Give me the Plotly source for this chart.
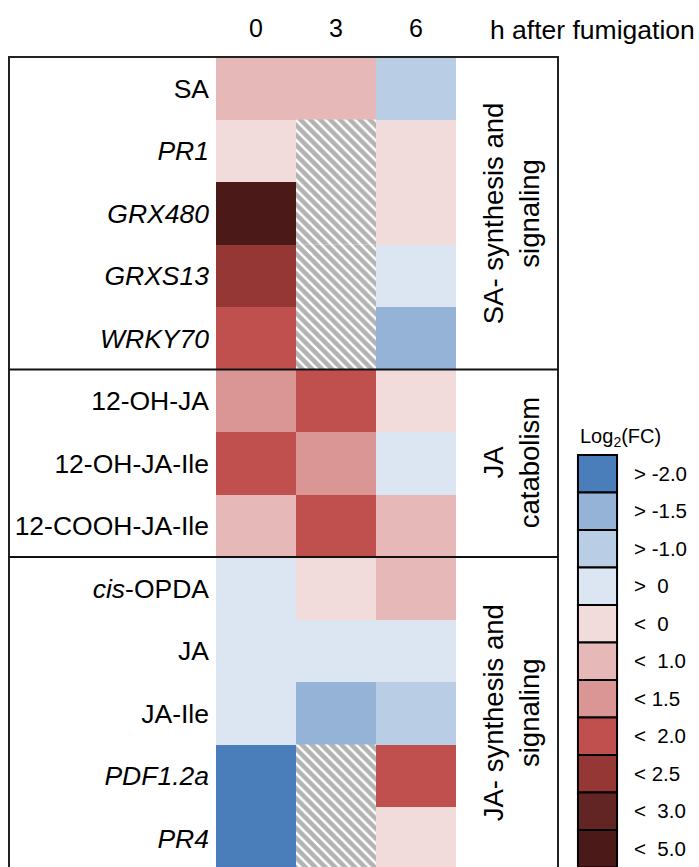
import numpy as np
import plotly.graph_objects as go

# ---------------- data ----------------
rows = ["SA", "<i>PR1</i>", "<i>GRX480</i>", "<i>GRXS13</i>", "<i>WRKY70</i>",
        "12-OH-JA", "12-OH-JA-Ile", "12-COOH-JA-Ile",
        "<i>cis</i>-OPDA", "JA", "JA-Ile", "<i>PDF1.2a</i>", "<i>PR4</i>"]
time_labels = ["0", "3", "6"]

# estimated log2(FC) values (None = not determined, hatched)
h0 = [0.8, 0.2, 4.0, 2.2, 1.7, 1.2, 1.7, 0.8, -0.3, -0.3, -0.3, -1.8, -1.8]
h3 = [0.8, None, None, None, None, 1.7, 1.2, 1.7, 0.2, -0.3, -1.2, None, None]
h6 = [-0.7, 0.2, 0.2, -0.3, -1.2, 0.2, -0.3, 0.8, 0.8, -0.3, -0.7, 1.7, 0.2]

bin_edges = [-2.0, -1.5, -1.0, -0.5, 0.0, 0.5, 1.0, 1.5, 2.0, 2.5, 3.0, 5.0]
bin_labels = ["> -2.0", "> -1.5", "> -1.0", ">\u00a0\u00a00", "<\u00a0\u00a00",
              "<\u00a0\u00a01.0", "<\u00a01.5", "<\u00a0\u00a02.0", "<\u00a02.5",
              "<\u00a0\u00a03.0", "<\u00a0\u00a05.0"]
bin_colors = ["#4A7EBB", "#95B3D7", "#B9CDE5", "#DCE6F2", "#F2DCDB", "#E6B9B8",
              "#D99694", "#C0504D", "#953735", "#632523", "#4B1917"]

groups = ["SA- synthesis and<br>signaling", "JA<br>catabolism",
          "JA- synthesis and<br>signaling"]
group_rows = [[0, 4], [5, 7], [8, 12]]

# ---------------- figure ----------------
W, H = 699, 867
FONT = "Arial, Liberation Sans, sans-serif"

cols = [h0, h3, h6]
nrow = len(rows)
z = []
for r in range(nrow):
    line = []
    for c in range(3):
        v = cols[c][r]
        line.append(None if v is None else int(np.digitize(v, bin_edges) - 1))
    z.append(line)

n = len(bin_colors)
cs = []
for i, col in enumerate(bin_colors):
    cs.append([i / n, col])
    cs.append([(i + 1) / n, col])

fig = go.Figure()
fig.add_trace(go.Heatmap(
    z=z, x=list(range(3)), y=list(range(nrow)),
    colorscale=cs, zmin=-0.5, zmax=n - 0.5, showscale=False,
    hoverinfo="skip"))

# hatched (missing) cells
hx, hy, hb = [], [], []
for c in range(3):
    for r in range(nrow):
        if cols[c][r] is None:
            hx.append(c)
            hy.append(1)
            hb.append(r - 0.5)
fig.add_trace(go.Bar(
    x=hx, y=hy, base=hb, width=1,
    marker=dict(color="white", line=dict(width=0),
                pattern=dict(shape="\\", fgcolor="#686868", bgcolor="white",
                             size=7, solidity=0.65)),
    showlegend=False, hoverinfo="skip"))

# legend as bar stack on second axes
fig.add_trace(go.Bar(
    x=[1] * n, y=list(range(n)), base=0, width=1, orientation="h",
    marker=dict(color=bin_colors, line=dict(color="black", width=2)),
    xaxis="x2", yaxis="y2", showlegend=False, hoverinfo="skip"))

top_px = 55
row_px = 62.5
y_top = -0.5 - (57 - top_px) / row_px
y_bot = -0.5 + (H - 57) / row_px

leg_top_px, leg_box_top = 453, 455
leg_h = 37.5
ly_top = -0.5 - (leg_box_top - leg_top_px) / leg_h
ly_bot = -0.5 + (H - leg_box_top) / leg_h

fig.update_layout(
    width=W, height=H, margin=dict(l=0, r=0, t=0, b=0, autoexpand=False),
    paper_bgcolor="white", plot_bgcolor="white",
    font=dict(family=FONT, color="black", size=26),
    barmode="overlay", showlegend=False,
    xaxis=dict(domain=[216 / W, 456 / W], range=[-0.5, 2.5], side="top",
               tickvals=[0, 1, 2], ticktext=time_labels, ticks="",
               showgrid=False, zeroline=False, showline=False, automargin=False,
               tickfont=dict(size=25), ticklabelstandoff=12),
    yaxis=dict(domain=[0, 1 - top_px / H], range=[y_bot, y_top],
               tickvals=list(range(nrow)), ticktext=rows, ticks="",
               showgrid=False, zeroline=False, showline=False, automargin=False,
               tickfont=dict(size=26.5), ticklabelstandoff=6),
    xaxis2=dict(domain=[576 / W, 619 / W], range=[-0.05, 1.05], anchor="y2",
                visible=False, automargin=False),
    yaxis2=dict(domain=[0, 1 - leg_top_px / H], range=[ly_bot, ly_top],
                anchor="x2", side="right", tickvals=list(range(n)),
                ticktext=bin_labels, ticks="", showgrid=False, zeroline=False,
                showline=False, automargin=False,
                tickfont=dict(size=20.5), ticklabelstandoff=14),
)

# box and separators
fig.add_shape(type="rect", xref="paper", yref="y", x0=9 / W, x1=558 / W,
              y0=-0.5, y1=y_bot + 1, line=dict(color="#222", width=2),
              layer="above")
for g in group_rows[:-1]:
    fig.add_shape(type="line", xref="paper", yref="y", x0=9 / W, x1=558 / W,
                  y0=g[1] + 0.5, y1=g[1] + 0.5, line=dict(color="#111", width=2),
                  layer="above")

for text, (a, b) in zip(groups, group_rows):
    fig.add_annotation(text=text, textangle=-90, xref="paper", yref="y",
                       x=511 / W, y=(a + b) / 2, xanchor="center",
                       yanchor="middle", showarrow=False,
                       font=dict(size=27.5))

fig.add_annotation(text="h after fumigation", xref="paper", yref="paper",
                   x=488 / W, y=1 - 30 / H, xanchor="left", yanchor="middle",
                   showarrow=False, font=dict(size=26.5))
fig.add_annotation(text="Log<sub>2</sub>(FC)", xref="paper", yref="paper",
                   x=578 / W, y=1 - 437 / H, xanchor="left", yanchor="middle",
                   showarrow=False, font=dict(size=20))

fig.write_html("out.html", config={"displayModeBar": False},
               post_script="document.body.style.margin='0';"
                           "document.body.style.overflow='hidden';")
